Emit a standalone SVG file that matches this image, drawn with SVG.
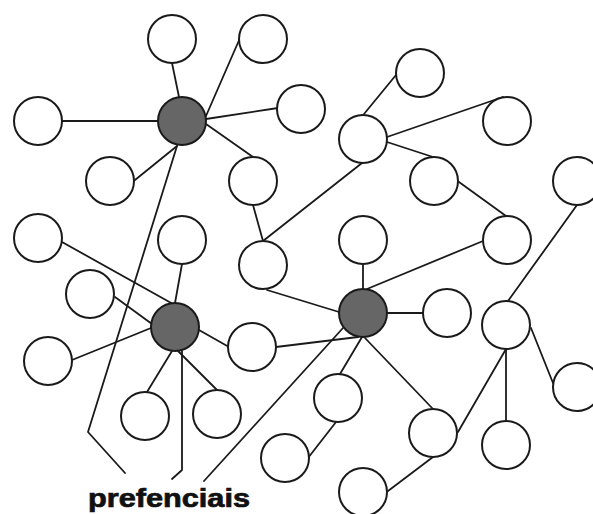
<svg xmlns="http://www.w3.org/2000/svg" width="593" height="514" viewBox="0 0 593 514">
  <style>
    .edge { stroke: #1a1a1a; stroke-width: 1.8; fill: none; stroke-linecap: round; stroke-linejoin: round; }
    .node { fill: #ffffff; stroke: #1a1a1a; stroke-width: 2; }
    .hub { fill: #666666; stroke: #1a1a1a; stroke-width: 2; }
    .label { font-family: "Liberation Sans", Arial, sans-serif; font-weight: bold; font-size: 25px; fill: #111; stroke: #111; stroke-width: 0.7; }
  </style>
  <rect width="593" height="514" fill="#ffffff"/>

  <g id="connectors">
    <!-- hub A (upper left) -->
    <line class="edge" x1="172" y1="63" x2="179" y2="97"/>
    <line class="edge" x1="206" y1="116" x2="240" y2="38"/>
    <line class="edge" x1="62" y1="121" x2="158" y2="121"/>
    <line class="edge" x1="206" y1="119" x2="278" y2="108"/>
    <line class="edge" x1="206" y1="124" x2="253" y2="157"/>
    <line class="edge" x1="177" y1="146" x2="135" y2="180"/>
    <polyline class="edge" points="177,146 88,432 125,473"/>
    <!-- middle chain -->
    <line class="edge" x1="253" y1="205" x2="263" y2="241"/>
    <line class="edge" x1="263" y1="241" x2="362" y2="163"/>
    <line class="edge" x1="364" y1="114" x2="396" y2="75"/>
    <line class="edge" x1="387" y1="137" x2="503" y2="97"/>
    <line class="edge" x1="387" y1="142" x2="433" y2="157"/>
    <line class="edge" x1="459" y1="182" x2="506" y2="216"/>
    <line class="edge" x1="483" y1="241" x2="367" y2="289"/>
    <line class="edge" x1="577" y1="205" x2="508" y2="301"/>
    <!-- hub C (middle right) -->
    <line class="edge" x1="363" y1="264" x2="363" y2="289"/>
    <line class="edge" x1="387" y1="313" x2="423" y2="313"/>
    <line class="edge" x1="267" y1="290" x2="339" y2="312"/>
    <line class="edge" x1="276" y1="347" x2="358" y2="337"/>
    <line class="edge" x1="343" y1="328" x2="204" y2="481"/>
    <line class="edge" x1="362" y1="337" x2="340" y2="374"/>
    <line class="edge" x1="365" y1="338" x2="433" y2="409"/>
    <line class="edge" x1="336" y1="422" x2="308" y2="458"/>
    <line class="edge" x1="433" y1="457" x2="388" y2="491"/>
    <line class="edge" x1="458" y1="432" x2="506" y2="349"/>
    <line class="edge" x1="506" y1="349" x2="506" y2="421"/>
    <line class="edge" x1="531" y1="328" x2="553" y2="383"/>
    <!-- hub B (lower left) -->
    <line class="edge" x1="182" y1="264" x2="175" y2="303"/>
    <line class="edge" x1="62" y1="242" x2="173" y2="304"/>
    <line class="edge" x1="115" y1="297" x2="152" y2="324"/>
    <line class="edge" x1="72" y1="360" x2="151" y2="328"/>
    <line class="edge" x1="199" y1="330" x2="229" y2="347"/>
    <line class="edge" x1="172" y1="351" x2="147" y2="392"/>
    <line class="edge" x1="178" y1="351" x2="217" y2="390"/>
    <polyline class="edge" points="182,351 182,470 172,479"/>
  </g>

  <!-- white nodes -->
  <g id="n1"><circle class="node" cx="172" cy="39" r="24"/></g>
  <g id="n2"><circle class="node" cx="263" cy="39" r="24"/></g>
  <g id="n3"><circle class="node" cx="38" cy="121" r="24"/></g>
  <g id="n4"><circle class="node" cx="301" cy="109" r="24"/></g>
  <g id="n5"><circle class="node" cx="110" cy="181" r="24"/></g>
  <g id="n6"><circle class="node" cx="253" cy="181" r="24"/></g>
  <g id="n7"><circle class="node" cx="38" cy="238" r="24"/></g>
  <g id="n8"><circle class="node" cx="182" cy="240" r="24"/></g>
  <g id="n9"><circle class="node" cx="263" cy="265" r="24"/></g>
  <g id="n10"><circle class="node" cx="420" cy="73" r="24"/></g>
  <g id="n11"><circle class="node" cx="363" cy="139" r="24"/></g>
  <g id="n12"><circle class="node" cx="507" cy="121" r="24"/></g>
  <g id="n13"><circle class="node" cx="434" cy="181" r="24"/></g>
  <g id="n14"><circle class="node" cx="577" cy="181" r="24"/></g>
  <g id="n15"><circle class="node" cx="363" cy="240" r="24"/></g>
  <g id="n16"><circle class="node" cx="507" cy="240" r="24"/></g>
  <g id="n17"><circle class="node" cx="90" cy="294" r="24"/></g>
  <g id="n18"><circle class="node" cx="48" cy="361" r="24"/></g>
  <g id="n19"><circle class="node" cx="252" cy="347" r="24"/></g>
  <g id="n20"><circle class="node" cx="145" cy="416" r="24"/></g>
  <g id="n21"><circle class="node" cx="217" cy="414" r="24"/></g>
  <g id="n22"><circle class="node" cx="447" cy="313" r="24"/></g>
  <g id="n23"><circle class="node" cx="506" cy="325" r="24"/></g>
  <g id="n24"><circle class="node" cx="338" cy="398" r="24"/></g>
  <g id="n25"><circle class="node" cx="577" cy="387" r="24"/></g>
  <g id="n26"><circle class="node" cx="433" cy="433" r="24"/></g>
  <g id="n27"><circle class="node" cx="506" cy="445" r="24"/></g>
  <g id="n28"><circle class="node" cx="285" cy="458" r="24"/></g>
  <g id="n29"><circle class="node" cx="363" cy="492" r="24"/></g>

  <!-- grey hubs -->
  <g id="hubA"><circle class="hub" cx="182" cy="121" r="24"/></g>
  <g id="hubB"><circle class="hub" cx="175" cy="327" r="24"/></g>
  <g id="hubC"><circle class="hub" cx="363" cy="313" r="24"/></g>

  <g id="caption">
    <text class="label" x="88" y="507" textLength="162" lengthAdjust="spacingAndGlyphs">prefenciais</text>
  </g>
</svg>
